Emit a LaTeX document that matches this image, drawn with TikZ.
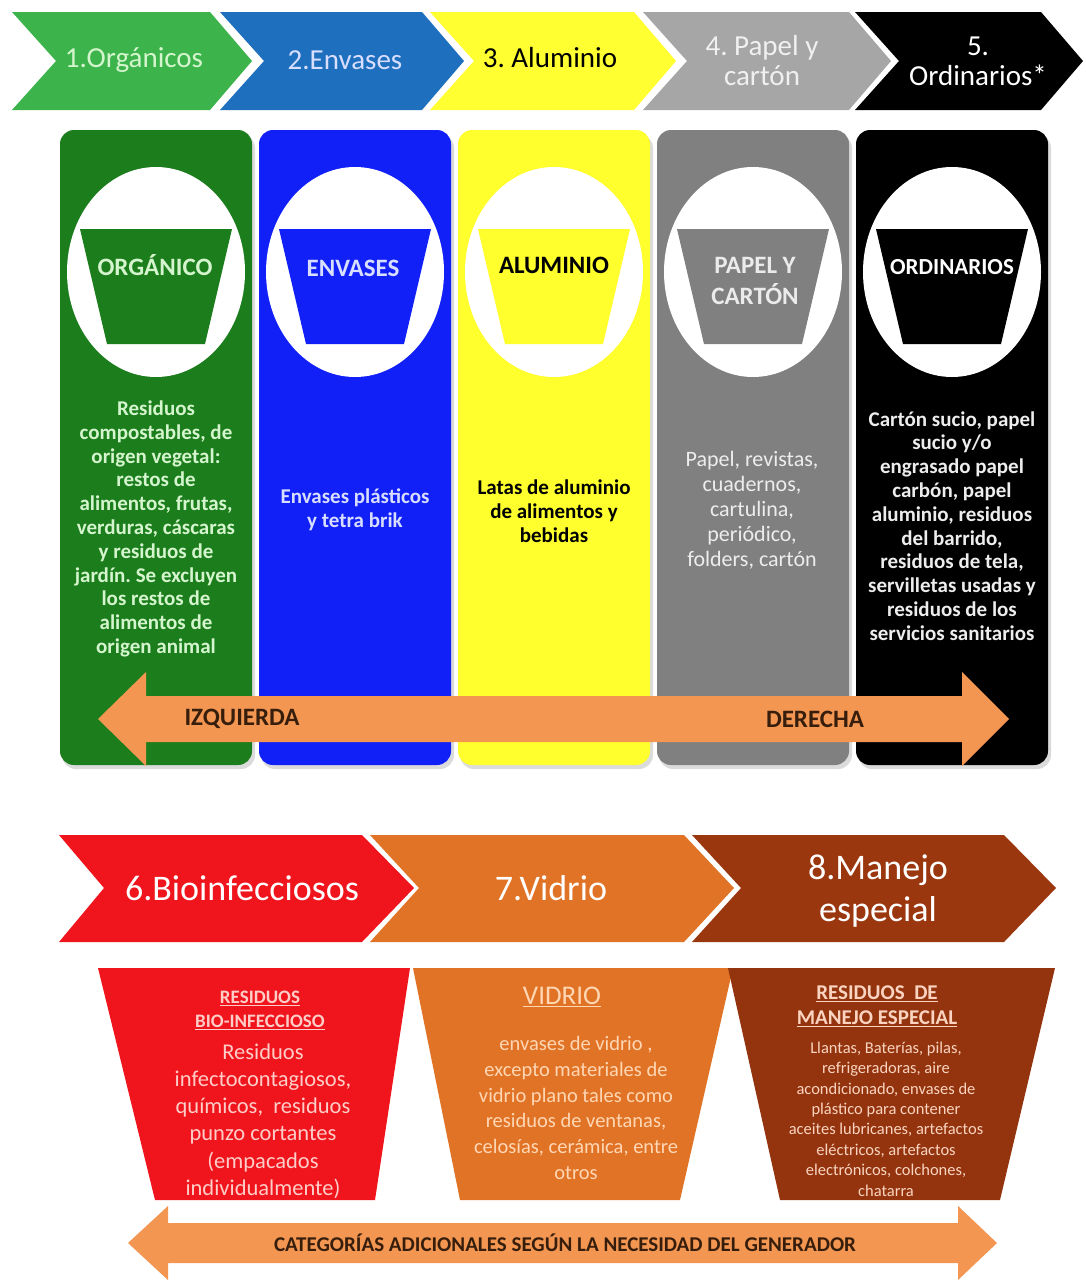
\documentclass[tikz,border=0pt]{standalone}
\usepackage{fontspec}
\setmainfont{Carlito}
\usetikzlibrary{positioning}
\frenchspacing

\definecolor{topgreen}{RGB}{60,180,75}
\definecolor{topblue}{RGB}{30,112,190}
\definecolor{topyellow}{RGB}{255,255,50}
\definecolor{topgray}{RGB}{166,166,166}
\definecolor{pgreen}{RGB}{28,125,28}
\definecolor{pblue}{RGB}{18,32,248}
\definecolor{pyellow}{RGB}{255,255,45}
\definecolor{pgray}{RGB}{128,128,128}
\definecolor{arroworange}{RGB}{242,150,82}
\definecolor{arrowtext}{RGB}{55,30,12}
\definecolor{binred}{RGB}{240,20,28}
\definecolor{binorange}{RGB}{225,115,38}
\definecolor{binbrown}{RGB}{155,55,15}
\definecolor{palegreen}{RGB}{212,245,205}
\definecolor{paleblue}{RGB}{215,222,255}
\definecolor{palered}{RGB}{255,205,200}
\definecolor{palepeach}{RGB}{255,215,180}
\definecolor{palebrown}{RGB}{250,212,192}

\tikzset{
  toplbl/.style={font=\fontsize{29}{30}\selectfont, align=center},
  midlbl/.style={font=\fontsize{36}{42}\selectfont, align=center, text=white},
  binlbl/.style={font=\bfseries\fontsize{25}{31}\selectfont, align=center},
  bodytxt/.style={font=\bfseries\fontsize{21}{23.8}\selectfont, align=center, text=white},
  arrowlbl/.style={font=\bfseries\fontsize{25}{28}\selectfont, text=arrowtext},
  hdrtxt/.style={font=\bfseries\fontsize{19}{24}\selectfont, align=center},
}

\begin{document}
\begin{tikzpicture}[x=1pt,y=-1pt]
\useasboundingbox (0,0) rectangle (1086,1280);

% top row of chevrons
\foreach \x/\w/\c in {12/240/topgreen,220/244/topblue,430/246/topyellow,643/248/topgray,855/228/black}
  \fill[\c] (\x,12) -- ({\x+\w-42},12) -- ({\x+\w},61) -- ({\x+\w-42},110) -- (\x,110) -- ({\x+44},61) -- cycle;
\node[toplbl, text=palegreen] (organicos) at (134,60) {1.Orgánicos};
\node[toplbl, text=paleblue] (envases) at (345,60) {2.Envases};
\node[toplbl, text=black] (aluminio) at (550,58) {3. Aluminio};
\node[toplbl, text=white!94!black] (papel) at (762,61) {4. Papel y\\cartón};
\node[toplbl, text=white] (ordinarios) at (978,61) {5.\\Ordinarios*};

% panels with bins
\foreach \i/\c in {0/pgreen,1/pblue,2/pyellow,3/pgray,4/black}{
  \pgfmathsetmacro\cx{156+199*\i}
  \fill[black!14, rounded corners=14pt] ({\cx-94},134) rectangle ({\cx+99},769);
  \fill[\c, rounded corners=14pt] ({\cx-96},130) rectangle ({\cx+96},765);
  \fill[white] (\cx,272) ellipse [x radius=89pt, y radius=105pt];
  \fill[\c] ({\cx-76},229) -- ({\cx+76},229) -- ({\cx+49},344) -- ({\cx-49},344) -- cycle;
}
\node[binlbl, text=palegreen] (binorg) at (155,265) {ORGÁNICO};
\node[binlbl, text=paleblue] (binenv) at (353,268) {ENVASES};
\node[binlbl, text=black] (binalu) at (554,265) {ALUMINIO};
\node[binlbl, text=white!92!black] (binpap) at (755,281) {PAPEL Y\\CARTÓN};
\node[binlbl, font=\bfseries\fontsize{23}{31}\selectfont, text=white] (binord) at (952,267) {ORDINARIOS};

\node[bodytxt, text=palegreen] (txtorg) at (156,529) {Residuos\\compostables, de\\origen vegetal:\\restos de\\alimentos, frutas,\\verduras, cáscaras\\y residuos de\\jardín. Se excluyen\\los restos de\\alimentos de\\origen animal};
\node[bodytxt, text=paleblue] (txtenv) at (355,510) {Envases plásticos\\y tetra brik};
\node[bodytxt, text=black] (txtalu) at (554,511) {Latas de aluminio\\de alimentos y\\bebidas};
\node[bodytxt, font=\fontsize{22}{25}\selectfont, text=white!93!black] (txtpap) at (752,510) {Papel, revistas,\\cuadernos,\\cartulina,\\periódico,\\folders, cartón};
\node[bodytxt, text=white!93!black] (txtord) at (952,526) {Cartón sucio, papel\\sucio y/o\\engrasado papel\\carbón, papel\\aluminio, residuos\\del barrido,\\residuos de tela,\\servilletas usadas y\\residuos de los\\servicios sanitarios};

% left-right arrow
\fill[arroworange] (98,719) -- (146,672) -- (146,696) -- (962,696) -- (962,672) -- (1009,719) -- (962,766) -- (962,742) -- (146,742) -- (146,766) -- cycle;
\node[arrowlbl] (izq) at (242,719) {IZQUIERDA};
\node[arrowlbl] (der) at (815,719) {DERECHA};

% second row of chevrons
\fill[binred] (59,835) -- (362,835) -- (414,888) -- (362,942) -- (59,942) -- (104,888) -- cycle;
\fill[binorange] (370,835) -- (684,835) -- (734,888) -- (684,942) -- (370,942) -- (419,888) -- cycle;
\fill[binbrown] (692,835) -- (1004,835) -- (1056,888) -- (1004,942) -- (692,942) -- (741,888) -- cycle;
\node[midlbl] (bio) at (242,888) {6.Bioinfecciosos};
\node[midlbl] (vidrio) at (551,888) {7.Vidrio};
\node[midlbl] (manejo) at (878,891) {8.Manejo\\especial};

% bins of the second row
\fill[binred] (98,968) -- (410,968) -- (375,1200) -- (155,1200) -- cycle;
\fill[binorange] (413,968) -- (733,968) -- (680,1200) -- (460,1200) -- cycle;
\fill[binbrown!95!black] (728,968) -- (1055,968) -- (1000,1200) -- (780,1200) -- cycle;

\node[hdrtxt, text=palered] (hdrbio) at (260,1010) {\underline{RESIDUOS}\\\underline{BIO-INFECCIOSO}};
\node[bodytxt, font=\fontsize{22.5}{27.2}\selectfont, text=palered] (txtbio) at (263,1121) {Residuos\\infectocontagiosos,\\químicos,~ residuos\\punzo cortantes\\(empacados\\individualmente)};
\node[font=\fontsize{27}{30}\selectfont, text=palepeach] (hdrvid) at (562,997) {\underline{VIDRIO}};
\node[bodytxt, font=\fontsize{20.5}{25.8}\selectfont, text=palepeach] (txtvid) at (576,1108) {envases de vidrio ,\\excepto materiales de\\vidrio plano tales como\\residuos de ventanas,\\celosías, cerámica, entre\\otros};
\node[hdrtxt, font=\bfseries\fontsize{21}{25}\selectfont, text=palebrown] (hdrman) at (877,1006) {\underline{RESIDUOS~ DE}\\\underline{MANEJO ESPECIAL}};
\node[bodytxt, font=\fontsize{16.5}{20.4}\selectfont, text=palebrown] (txtman) at (886,1119) {Llantas, Baterías, pilas,\\refrigeradoras, aire\\acondicionado, envases de\\plástico para contener\\aceites lubricanes, artefactos\\eléctricos, artefactos\\electrónicos, colchones,\\chatarra};

% bottom arrow
\fill[arroworange] (128,1243) -- (168,1206) -- (168,1223) -- (958,1223) -- (958,1206) -- (997,1243) -- (958,1280) -- (958,1263) -- (168,1263) -- (168,1280) -- cycle;
\node[arrowlbl, font=\bfseries\fontsize{21}{24}\selectfont] (categorias) at (565,1243) {CATEGORÍAS ADICIONALES SEGÚN LA NECESIDAD DEL GENERADOR};

\end{tikzpicture}
\end{document}
